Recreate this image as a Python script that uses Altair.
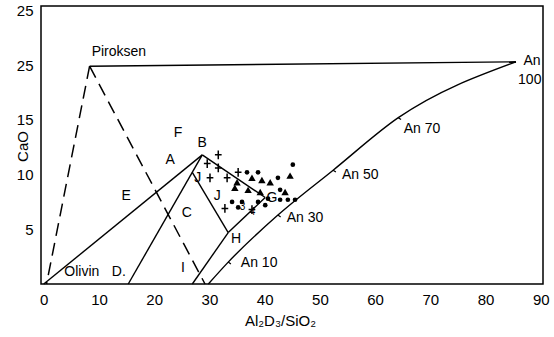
import altair as alt
import pandas as pd

FONT = "Liberation Sans"

# Straight reference lines (start x/y, end x/y, dashed?)
seg_x0 = [0.0, 15.3, 26.9, 26.9, 33.4, 28.7, 8.3, 8.3, 8.3]
seg_y0 = [0.0, 0.0, 10.2, 0.0, 4.7, 11.8, 19.9, 19.9, 19.9]
seg_x1 = [28.7, 28.7, 33.4, 33.4, 40.1, 40.1, 85.5, 0.5, 29.2]
seg_y1 = [11.8, 11.8, 4.7, 4.7, 7.9, 7.9, 20.3, 0.0, 0.0]
seg_dash = [False, False, False, False, False, False, False, True, True]

# Plagioclase (An) curve
an_x = [29.8, 33.4, 42.4, 52.4, 64.2, 85.5]
an_y = [0.0, 2.0, 6.3, 10.4, 15.2, 20.3]

# An-content tick positions on the curve
tick_x = [33.4, 42.4, 52.4, 64.2]
tick_y = [2.0, 6.3, 10.4, 15.2]

# Sample points
cross_x = [31.6, 29.6, 31.6, 30.1, 33.2, 35.2, 32.8, 37.7]
cross_y = [11.8, 11.0, 10.6, 9.7, 9.7, 10.2, 6.9, 6.8]

tri_x = [35.0, 37.7, 41.0, 44.6, 39.5, 37.0, 39.2, 43.7, 34.6]
tri_y = [9.3, 9.7, 9.3, 9.9, 9.5, 8.6, 8.4, 8.4, 8.8]

dot_x = [45.1, 36.8, 38.8, 42.4, 34.1, 35.2, 40.1, 42.8, 42.8, 44.2, 45.5, 35.9, 38.8, 40.6]
dot_y = [10.9, 10.2, 10.2, 9.7, 7.5, 7.0, 7.2, 8.6, 7.7, 7.7, 7.7, 7.5, 7.5, 7.8]

# Text labels
lab_text = ["Piroksen", "F", "A", "B", "E", "C", "J", "J", "H", "G", "I",
            "Olivin", "D.", "An 10", "An 30", "An 50", "An 70", "An", "100"]
lab_x = [13.6, 24.3, 22.9, 28.7, 14.9, 25.9, 27.9, 31.4, 34.8, 41.3, 25.2,
         6.9, 13.6, 39.0, 47.3, 57.3, 68.5, 88.4, 88.0]
lab_y = [21.2, 13.8, 11.3, 12.9, 8.0, 6.5, 9.7, 8.0, 4.1, 7.9, 1.5,
         1.1, 1.1, 1.9, 6.0, 10.0, 14.2, 20.4, 18.6]

small_text = ["3", "4"]
small_x = [36.0, 37.8]
small_y = [7.0, 6.6]

x_ticks = [0, 10, 20, 30, 40, 50, 60, 70, 80, 90]
y_ticks = [5, 10, 15, 20, 25]

segs = pd.DataFrame({"x": seg_x0, "y": seg_y0, "x2": seg_x1, "y2": seg_y1, "dashed": seg_dash})
an = pd.DataFrame({"x": an_x, "y": an_y})
ticks = pd.DataFrame({"x": tick_x, "y": tick_y})
crosses = pd.DataFrame({"x": cross_x, "y": cross_y})
tris = pd.DataFrame({"x": tri_x, "y": tri_y})
dots = pd.DataFrame({"x": dot_x, "y": dot_y})
labels = pd.DataFrame({"x": lab_x, "y": lab_y, "t": lab_text})
smalls = pd.DataFrame({"x": small_x, "y": small_y, "t": small_text})

xs = alt.Scale(domain=[-0.5, 90.4], nice=False, zero=False)
ys = alt.Scale(domain=[0, 25.4], nice=False, zero=False)

X = alt.X("x:Q", scale=xs,
          axis=alt.Axis(values=x_ticks, title="Al₂D₃/SiO₂", titleX=239,
                        titleFontSize=15, titlePadding=6, labelPadding=8,
                        labelFontSize=15))
Y = alt.Y("y:Q", scale=ys,
          axis=alt.Axis(values=y_ticks, title="CaO", titleFontSize=15,
                        titleX=-19, titleY=140, titleAngle=-90,
                        titleAlign="center", titleBaseline="middle",
                        labelPadding=8, labelFontSize=15,
                        labelExpr="datum.value == 20 ? '25' : datum.label"))

solid = alt.Chart(segs).transform_filter("!datum.dashed").mark_rule(
    color="black", strokeWidth=1.4
).encode(x=X, y=Y, x2="x2:Q", y2="y2:Q")

dashed = alt.Chart(segs).transform_filter("datum.dashed").mark_rule(
    color="black", strokeWidth=1.5, strokeDash=[13, 7]
).encode(x="x:Q", y="y:Q", x2="x2:Q", y2="y2:Q")

curve = alt.Chart(an).mark_line(
    color="black", strokeWidth=1.4, interpolate="monotone"
).encode(x="x:Q", y="y:Q")

tick_marks = alt.Chart(ticks).mark_point(
    shape="M0,0L0.7,0.5", size=60, filled=False, color="black", strokeWidth=1.2, opacity=1
).encode(x="x:Q", y="y:Q")

cross_pts = alt.Chart(crosses).mark_point(
    shape="M-1,0L1,0M0,-1.3L0,1.3", size=45, filled=False, color="black",
    strokeWidth=1.5, opacity=1
).encode(x="x:Q", y="y:Q")

tri_pts = alt.Chart(tris).mark_point(
    shape="triangle-up", size=55, filled=True, color="black", opacity=1
).encode(x="x:Q", y="y:Q")

dot_pts = alt.Chart(dots).mark_point(
    shape="circle", size=22, filled=True, color="black", opacity=1
).encode(x="x:Q", y="y:Q")

text = alt.Chart(labels).mark_text(
    font=FONT, fontSize=14, color="black", align="center", baseline="middle"
).encode(x="x:Q", y="y:Q", text="t:N")

small = alt.Chart(smalls).mark_text(
    font=FONT, fontSize=10, color="black", align="center", baseline="middle"
).encode(x="x:Q", y="y:Q", text="t:N")

chart = alt.layer(
    solid, dashed, curve, tick_marks, cross_pts, tri_pts, dot_pts, text, small
).properties(
    width=502, height=278,
    autosize=alt.AutoSizeParams(type="none"),
    padding={"left": 41, "top": 6, "right": 11, "bottom": 53},
    background="white",
).configure_view(
    stroke="black", strokeWidth=1.5
).configure_axis(
    grid=False, ticks=False, domain=False,
    labelFont=FONT, titleFont=FONT,
    labelColor="black", titleColor="black", titleFontWeight="normal",
)

chart.save("out.html", embed_options={"renderer": "svg", "actions": False})
